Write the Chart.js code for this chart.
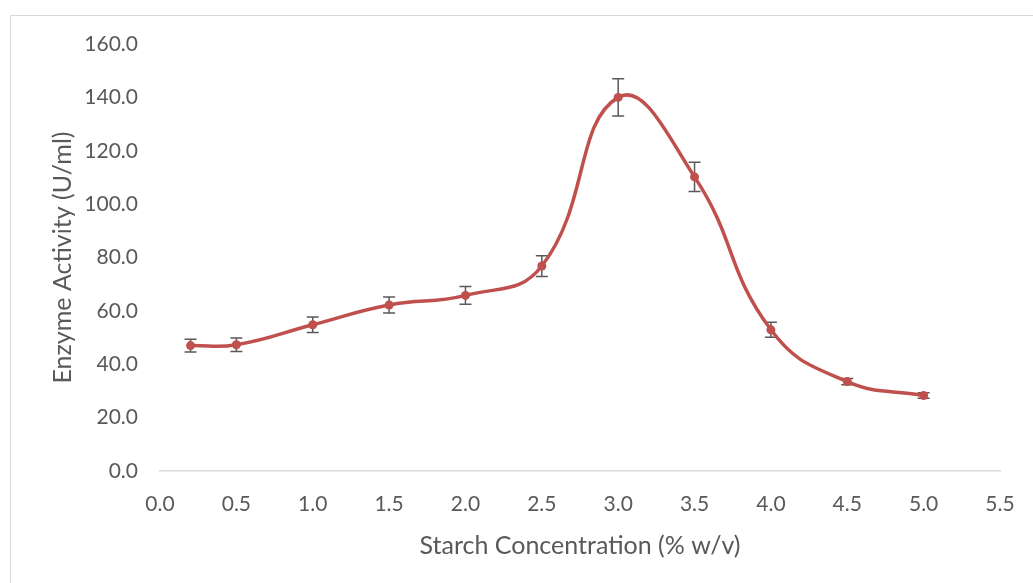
<!DOCTYPE html>
<html>
<head>
<meta charset="utf-8">
<script src="https://cdn.jsdelivr.net/npm/chart.js@4"></script>
<style>
  html, body { margin: 0; padding: 0; background: #fff; }
  #wrap { position: relative; width: 1033px; height: 583px; overflow: hidden; }
  #frame { position: absolute; left: 10px; top: 15px; width: 1100px; height: 700px; border: 1px solid #d9d9d9; }
  canvas { position: absolute; left: 0; top: 0; }
</style>
</head>
<body>
<div id="wrap">
  <div id="frame"></div>
  <canvas id="chart" width="1033" height="583"></canvas>
</div>
<script>
const concentration = [0.2, 0.5, 1.0, 1.5, 2.0, 2.5, 3.0, 3.5, 4.0, 4.5, 5.0];
const activity = [47.0, 47.3, 54.8, 62.2, 65.8, 76.8, 140.0, 110.2, 52.9, 33.5, 28.3];
const errors = [2.4, 2.5, 2.9, 3.0, 3.3, 3.9, 7.0, 5.5, 2.8, 1.2, 1.0];

const points = concentration.map((c, i) => ({ x: c, y: activity[i] }));

// draws the error bars behind the line
const errorBars = {
  id: 'errorBars',
  beforeDatasetsDraw(chart) {
    const ctx = chart.ctx;
    const xs = chart.scales.x;
    const ys = chart.scales.y;
    ctx.save();
    ctx.strokeStyle = '#595959';
    ctx.lineWidth = 1.5;
    concentration.forEach((c, i) => {
      const px = xs.getPixelForValue(c);
      const top = ys.getPixelForValue(activity[i] + errors[i]);
      const bot = ys.getPixelForValue(activity[i] - errors[i]);
      ctx.beginPath();
      ctx.moveTo(px, top);
      ctx.lineTo(px, bot);
      ctx.moveTo(px - 6, top);
      ctx.lineTo(px + 6, top);
      ctx.moveTo(px - 6, bot);
      ctx.lineTo(px + 6, bot);
      ctx.stroke();
    });
    ctx.restore();
  }
};

const font = 'Lato, "Open Sans", sans-serif';

new Chart(document.getElementById('chart'), {
  type: 'line',
  data: {
    datasets: [{
      data: points,
      borderColor: '#c0504d',
      backgroundColor: '#c0504d',
      borderWidth: 3.5,
      tension: 0.45,
      pointRadius: 4.5,
      pointBackgroundColor: '#c0504d',
      pointBorderWidth: 0,
    }]
  },
  options: {
    responsive: false,
    animation: false,
    layout: { padding: { left: 44, right: 33, top: 44, bottom: 12 } },
    scales: {
      x: {
        type: 'linear',
        min: 0,
        max: 5.5,
        afterFit(scale) { scale.height = 100; },
        ticks: {
          stepSize: 0.5,
          padding: 13,
          color: '#595959',
          font: { family: font, size: 21 },
          callback: v => v.toFixed(1),
        },
        grid: { display: false },
        border: { display: true, color: '#d9d9d9', width: 1.5 },
        title: {
          display: true,
          text: 'Starch Concentration (% w/v)',
          color: '#595959',
          font: { family: font, size: 25 },
          padding: { top: 4, bottom: 10 },
        },
      },
      y: {
        min: 0,
        max: 160,
        afterFit(scale) { scale.width = 116; },
        ticks: {
          stepSize: 20,
          padding: 14,
          color: '#595959',
          font: { family: font, size: 21 },
          callback: v => v.toFixed(1),
        },
        grid: { display: false },
        border: { display: false },
        title: {
          display: true,
          text: 'Enzyme Activity (U/ml)',
          color: '#595959',
          font: { family: font, size: 25 },
          padding: 4,
        },
      },
    },
    plugins: {
      legend: { display: false },
      tooltip: { enabled: false },
    },
  },
  plugins: [errorBars],
});
</script>
</body>
</html>
